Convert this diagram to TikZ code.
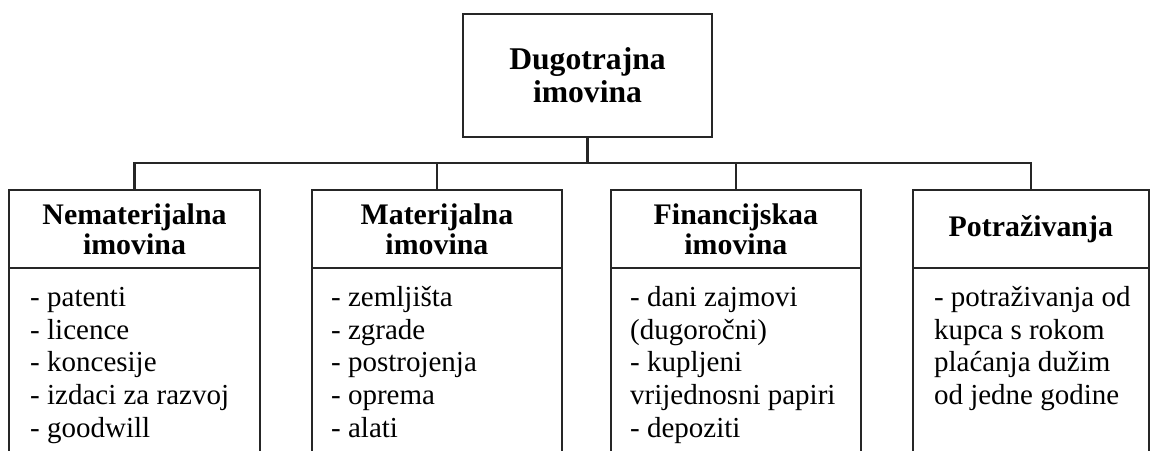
\documentclass[tikz,border=0pt]{standalone}
\usepackage{fontspec}
\setmainfont{Liberation Serif}
\usetikzlibrary{positioning}

\begin{document}
\begin{tikzpicture}[x=0.02cm, y=-0.02cm, line width=1.4pt, draw=black!85,
  box/.style={rectangle, draw=black!85, outer sep=0pt, align=center, minimum height=1.56cm, font=\fontsize{17}{17}\selectfont\bfseries},
  list/.style={rectangle, inner xsep=0.4cm, inner ysep=8pt, align=left, font=\fontsize{16.5}{18.7}\selectfont}]
\useasboundingbox (0,0) rectangle (1153,450);
\clip (0,0) rectangle (1153,450);

%--nodo principale
\node [box, minimum width=4.98cm, minimum height=2.46cm, font=\fontsize{18}{18.7}\selectfont\bfseries] (dug) at (587.5,75.5) {Dugotrajna\\imovina};

%--intestazioni delle colonne
\node [box, minimum width=5.02cm] (nem) at (134.5,229) {Nematerijalna\\imovina};
\node [box, minimum width=5cm, right=1.04cm of nem] (mat) {Materijalna\\imovina};
\node [box, minimum width=5cm, right=0.98cm of mat] (fin) {Financijskaa\\imovina};
\node [box, minimum width=4.72cm, right=1.04cm of fin] (pot) {Potraživanja};

%--collegamenti
\coordinate (bar) at (0,163);
\coordinate (bot) at (0,470);
\draw (dug.south) -- (dug.south |- bar);
\draw (nem.north) -- (nem.north |- bar) -- (pot.north |- bar) -- (pot.north);
\draw (mat.north) -- (mat.north |- bar);
\draw (fin.north) -- (fin.north |- bar);

%--colonne aperte in basso
\foreach \n in {nem,mat,fin,pot}{
  \draw (\n.south west) -- (\n.south west |- bot);
  \draw (\n.south east) -- (\n.south east |- bot);
}

%--elenchi
\node [list, below=0pt of nem.south west, anchor=north west] (nemlist)
	{\strut- patenti\\- licence\\- koncesije\\- izdaci za razvoj\\- goodwill};
\node [list, below=0pt of mat.south west, anchor=north west, inner xsep=0.36cm] (matlist)
	{\strut- zemljišta\\- zgrade\\- postrojenja\\- oprema\\- alati};
\node [list, below=0pt of fin.south west, anchor=north west, inner xsep=0.36cm] (finlist)
	{\strut- dani zajmovi\\(dugoročni)\\- kupljeni\\vrijednosni papiri\\- depoziti};
\node [list, below=0pt of pot.south west, anchor=north west] (potlist)
	{\strut- potraživanja od\\kupca s rokom\\plaćanja dužim\\od jedne godine};

\end{tikzpicture}
\end{document}
